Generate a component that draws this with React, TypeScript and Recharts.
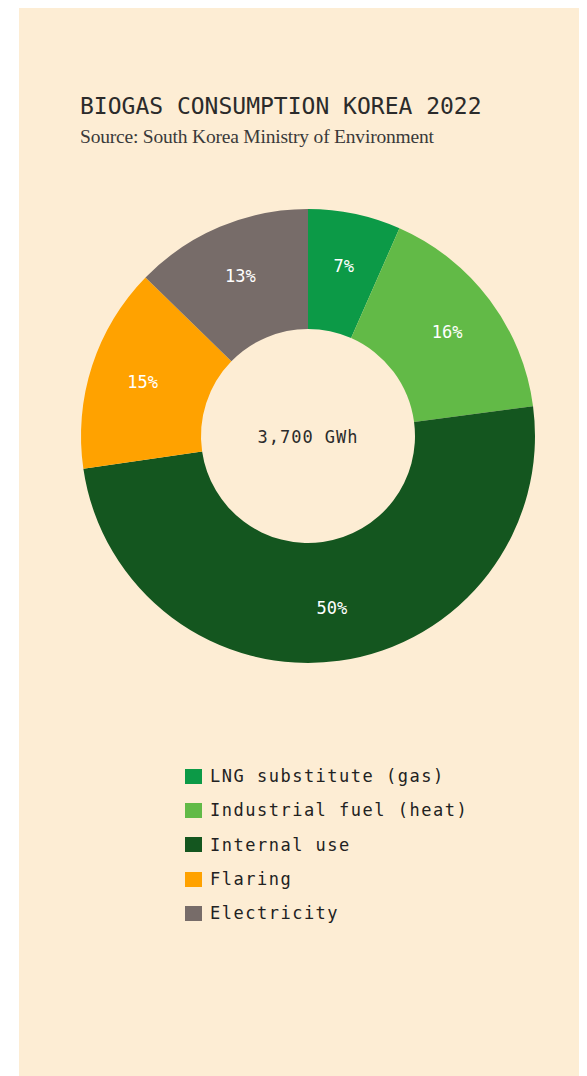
import { PieChart, Pie, Cell, Legend } from "recharts";

const categories = ["LNG substitute (gas)", "Industrial fuel (heat)", "Internal use", "Flaring", "Electricity"];
const shares = [6.6, 16.3, 49.8, 14.6, 12.7];
const colors = ["#0C9A47", "#62BA47", "#14561F", "#FFA200", "#776C69"];
const totalLabel = "3,700 GWh";

const data = categories.map((name, i) => ({ name, value: shares[i], color: colors[i] }));

const BG = "#FDEDD4";
const MONO = "'DejaVu Sans Mono', monospace";
const RAD = Math.PI / 180;

function SliceLabel(props: any) {
  const { cx, cy, midAngle, percent } = props;
  const r = 174;
  const x = cx + r * Math.cos(-midAngle * RAD);
  const y = cy + r * Math.sin(-midAngle * RAD);
  return (
    <text x={x} y={y} fill="#FFFFFF" textAnchor="middle" dominantBaseline="central" fontFamily={MONO} fontSize={17}>
      {`${Math.round(percent * 100)}%`}
    </text>
  );
}

function LegendList() {
  return (
    <div>
      {data.map((d) => (
        <div key={d.name} style={{ display: "flex", alignItems: "center", height: 34.3 }}>
          <span style={{ width: 17, height: 15, background: d.color, marginRight: 8 }} />
          <span style={{ fontFamily: MONO, fontSize: 17, letterSpacing: 1.5, color: "#222" }}>{d.name}</span>
        </div>
      ))}
    </div>
  );
}

export default function App() {
  return (
    <div style={{ marginLeft: 11, width: 568, height: 1068, background: BG, position: "relative" }}>
      <style>{`body{overflow:hidden}`}</style>
      <div style={{ position: "absolute", left: 61, top: 85, fontFamily: MONO, fontSize: 23, color: "#2B2B2B" }}>
        BIOGAS CONSUMPTION KOREA 2022
      </div>
      <div style={{ position: "absolute", left: 61, top: 118, fontFamily: "'Liberation Serif', serif", fontSize: 19.5, letterSpacing: -0.2, color: "#3A3A3A" }}>
        Source: South Korea Ministry of Environment
      </div>
      <PieChart
        width={568}
        height={1068}
        margin={{ top: 0, right: 0, bottom: 0, left: 0 }}
        style={{ position: "absolute", left: 0, top: 0 }}
      >
        <Pie
          data={data}
          dataKey="value"
          nameKey="name"
          cx={289}
          cy={428}
          innerRadius={107}
          outerRadius={227}
          startAngle={90}
          endAngle={-270}
          stroke="none"
          label={SliceLabel}
          labelLine={false}
          isAnimationActive={false}
        >
          {data.map((d) => (
            <Cell key={d.name} fill={d.color} />
          ))}
        </Pie>
        <text x={289} y={429} textAnchor="middle" dominantBaseline="central" fontFamily={MONO} fontSize={17} letterSpacing={1} fill="#2B2B2B">
          {totalLabel}
        </text>
        <Legend
          content={() => <LegendList />}
          wrapperStyle={{ position: "absolute", left: 166, top: 751, width: 380 }}
        />
      </PieChart>
    </div>
  );
}
